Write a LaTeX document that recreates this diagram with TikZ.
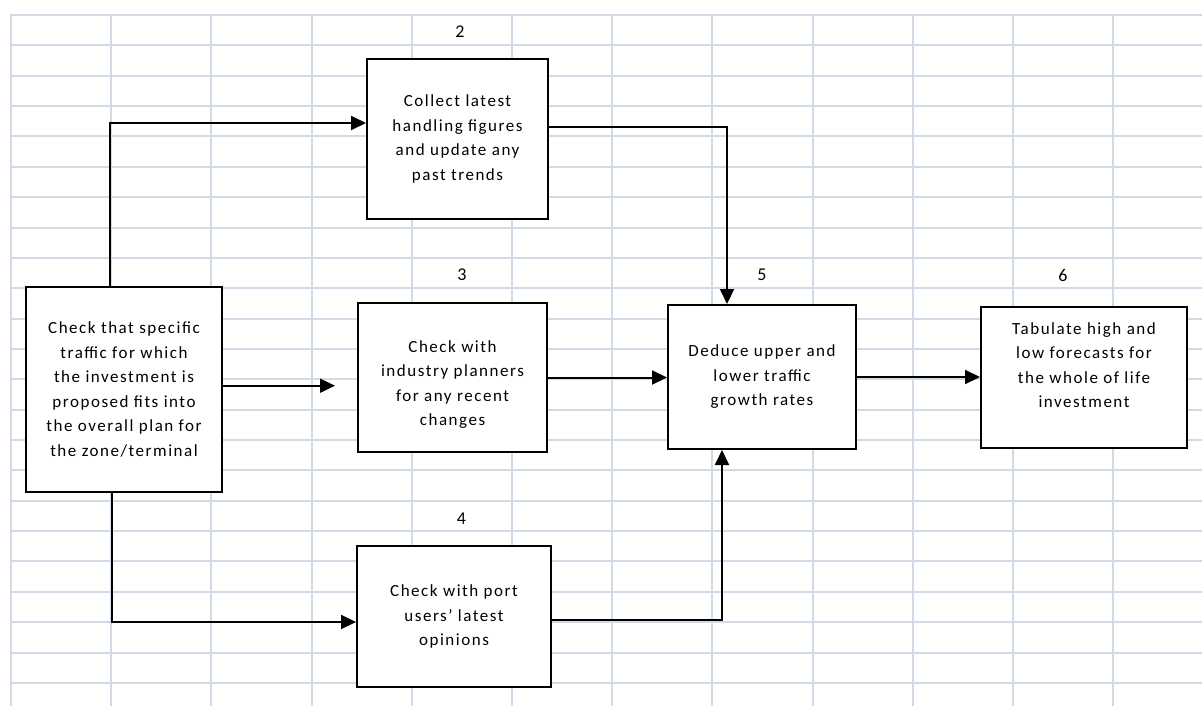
\documentclass[tikz,border=0pt]{standalone}
\usepackage{fontspec}
\setmainfont{Carlito}
\newfontfamily\boxfont[LetterSpace=9]{Carlito}
\usetikzlibrary{arrows.meta}
\definecolor{gridBlue}{RGB}{210,217,231}

\tikzset{
  stepbox/.style={draw=black, line width=1pt, fill=white, align=center,
    font=\boxfont\fontsize{8.5}{12.25}\selectfont},
  boxtext/.style={align=center, font=\boxfont\fontsize{8.5}{12.25}\selectfont},
  stepnum/.style={font=\fontsize{9}{11}\selectfont},
  flow/.style={line width=1pt, -{Triangle[length=7.5pt,width=7pt]}},
  gridline/.style={gridBlue, line width=1pt}
}

\begin{document}
\begin{tikzpicture}[x=0.5pt, y=-0.5pt]
  \useasboundingbox (0,0) rectangle (1202,706);

  % spreadsheet grid behind the chart
  \foreach \i in {0,...,22}
    \draw[gridline] (10,{round(15+30.36*\i)}) -- (1202,{round(15+30.36*\i)});
  \foreach \j in {0,...,11}
    \draw[gridline] ({round(11+100.2*\j)},14) -- ({round(11+100.2*\j)},706);

  % step boxes
  \node[stepbox, minimum width=98pt, minimum height=102.5pt] (box1) at (124,389.5)
    {Check that specific\\traffic for which\\the investment is\\proposed fits into\\the overall plan for\\the zone/terminal};
  \node[stepbox, minimum width=90.5pt, minimum height=80pt] (box2) at (457.5,139)
    {Collect latest\\handling figures\\and update any\\past trends};
  \node[stepbox, minimum width=94.5pt, minimum height=74.5pt] (box3) at (452.5,377.5) {};
  \node[boxtext] (box3txt) at (452.5,384.5)
    {Check with\\industry planners\\for any recent\\changes};
  \node[stepbox, minimum width=97pt, minimum height=70.5pt] (box4) at (454,616.5)
    {Check with port\\users’ latest\\opinions};
  \node[stepbox, minimum width=94pt, minimum height=72pt] (box5) at (762,377)
    {Deduce upper and\\lower traffic\\growth rates};
  \node[stepbox, minimum width=103pt, minimum height=70.5pt] (box6) at (1084,377.5) {};
  \node[boxtext] (box6txt) at (1084,365)
    {Tabulate high and\\low forecasts for\\the whole of life\\investment};

  % step numbers
  \node[stepnum] (num2) at (460,32) {2};
  \node[stepnum] (num3) at (462,275) {3};
  \node[stepnum] (num4) at (461.5,519) {4};
  \node[stepnum] (num5) at (762,275) {5};
  \node[stepnum] (num6) at (1063,275) {6};

  % connectors
  \coordinate (gap) at (335,385.7);
  \draw[flow] ([xshift=-7pt]box1.north) |- ([yshift=8pt]box2.west);
  \draw[flow] (box1.east |- gap) -- (gap);
  \draw[flow] ([xshift=-6pt]box1.south) |- ([yshift=-2.75pt]box4.west);
  \draw[flow] ([yshift=6pt]box2.east) -| ([xshift=-17.5pt]box5.north);
  \draw[flow] (box3.east) -- (box3.east -| box5.west);
  \draw[flow] ([yshift=-1.75pt]box4.east) -| ([xshift=-20pt]box5.south);
  \draw[flow] (box5.east) -- (box5.east -| box6.west);

\end{tikzpicture}
\end{document}
